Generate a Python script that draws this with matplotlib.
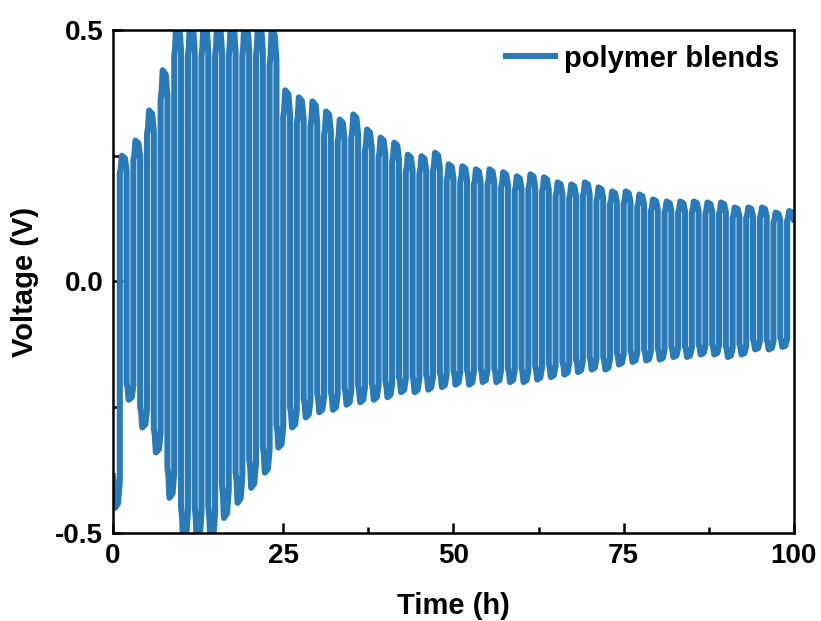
import numpy as np
import matplotlib
matplotlib.use("Agg")
import matplotlib.pyplot as plt
from matplotlib.ticker import MultipleLocator, FormatStrFormatter

# peak voltage (V) of each half cycle, 1 h per half
neg_peaks = [-0.45, -0.235, -0.29, -0.34, -0.43, -0.52, -0.52, -0.52, -0.47, -0.44,
             -0.41, -0.38, -0.33, -0.29, -0.27, -0.26, -0.255, -0.245, -0.24, -0.235,
             -0.23, -0.22, -0.22, -0.215, -0.21, -0.205, -0.205, -0.2, -0.2, -0.2,
             -0.2, -0.195, -0.19, -0.185, -0.18, -0.175, -0.175, -0.165, -0.16, -0.157,
             -0.155, -0.15, -0.15, -0.145, -0.145, -0.15, -0.145, -0.135, -0.135, -0.13]
pos_peaks = [0.25, 0.28, 0.34, 0.42, 0.52, 0.52, 0.52, 0.52, 0.52, 0.52,
             0.52, 0.5, 0.38, 0.366, 0.358, 0.338, 0.322, 0.332, 0.302, 0.286,
             0.276, 0.252, 0.249, 0.256, 0.233, 0.229, 0.223, 0.223, 0.217, 0.209,
             0.213, 0.207, 0.197, 0.193, 0.197, 0.187, 0.179, 0.179, 0.173, 0.163,
             0.159, 0.159, 0.159, 0.157, 0.157, 0.147, 0.147, 0.147, 0.137, 0.14]

# shape of one half cycle: (time fraction, fraction of peak)
shape_t = [0.0, 0.15, 0.3, 0.75, 1.0]
shape_v = [0.86, 0.9, 1.0, 0.98, 0.88]

t = []
v = []
for k in range(len(neg_peaks)):
    for half, p in ((0, neg_peaks[k]), (1, pos_peaks[k])):
        t0 = 2 * k + half
        for a, b in zip(shape_t, shape_v):
            t.append(t0 + a)
            v.append(p * b)

plt.rcParams['font.family'] = ['Liberation Sans', 'DejaVu Sans']
plt.rcParams['font.weight'] = 'bold'
plt.rcParams['axes.unicode_minus'] = False

fig = plt.figure(figsize=(8.21, 6.21), dpi=100)
ax = fig.add_axes([0.1376, 0.1417, 0.8294, 0.81])

ax.plot(t, v, color='#2a7ab8', lw=4.4, solid_joinstyle='round', label='polymer blends')

ax.set_xlim(0, 100)
ax.set_ylim(-0.5, 0.5)
ax.xaxis.set_major_locator(MultipleLocator(25))
ax.xaxis.set_minor_locator(MultipleLocator(12.5))
ax.yaxis.set_major_locator(MultipleLocator(0.5))
ax.yaxis.set_minor_locator(MultipleLocator(0.25))
ax.yaxis.set_major_formatter(FormatStrFormatter('%.1f'))
ax.tick_params(which='both', direction='in', top=False, right=False, width=1.8)
ax.tick_params(which='major', length=7, labelsize=20, pad=7)
ax.tick_params(which='minor', length=4)
for s in ax.spines.values():
    s.set_linewidth(1.8)

ax.set_xlabel('Time (h)', fontsize=21, fontweight='bold', labelpad=17)
ax.set_ylabel('Voltage (V)', fontsize=21, fontweight='bold', labelpad=12)

ax.legend(loc='upper right', frameon=False, handlelength=1.7,
          handletextpad=0.3, borderaxespad=0.1, prop={'weight': 'bold', 'size': 21})

fig.savefig('out.png', dpi=100)
